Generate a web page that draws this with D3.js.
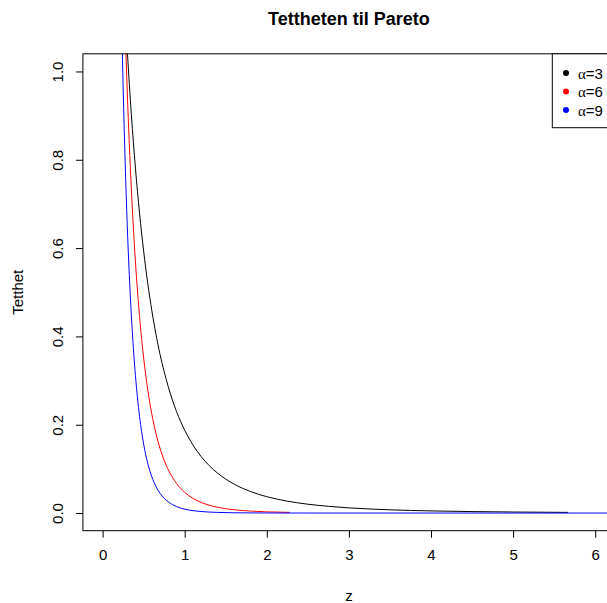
<!DOCTYPE html>
<html>
<head>
<meta charset="utf-8">
<script src="https://cdn.jsdelivr.net/npm/d3@7"></script>
<style>
  html, body { margin: 0; padding: 0; background: #fff; }
  svg { display: block; font-family: "Liberation Sans", Arial, sans-serif; }
</style>
</head>
<body>
<svg id="chart" width="607" height="603"></svg>
<script>
// ---- data ----
const seriesNames = ["α=3", "α=6", "α=9"];
const seriesColors = ["#000000", "#ff0000", "#0000ff"];

const zBlack = [0.20, 0.25, 0.30, 0.35, 0.40, 0.45, 0.50, 0.55, 0.60, 0.65, 0.70, 0.75, 0.80, 0.85, 0.90, 0.95, 1.00, 1.10, 1.20, 1.30, 1.40, 1.50, 1.60, 1.70, 1.80, 1.90, 2.00, 2.25, 2.50, 2.75, 3.00, 3.50, 4.00, 4.50, 5.00, 5.67];
const yBlack = [1.447, 1.229, 1.050, 0.903, 0.781, 0.679, 0.593, 0.520, 0.458, 0.405, 0.359, 0.320, 0.286, 0.256, 0.230, 0.2075, 0.1875, 0.1543, 0.128, 0.1072, 0.0904, 0.0768, 0.0656, 0.0564, 0.0488, 0.0424, 0.0370, 0.0269, 0.0200, 0.0152, 0.0117, 0.0073, 0.0048, 0.0033, 0.0023, 0.0015];

const zRed = [0.20, 0.25, 0.275, 0.30, 0.325, 0.35, 0.375, 0.40, 0.425, 0.45, 0.475, 0.50, 0.55, 0.60, 0.65, 0.70, 0.75, 0.80, 0.85, 0.90, 0.95, 1.00, 1.10, 1.20, 1.30, 1.40, 1.50, 1.60, 1.80, 2.00, 2.28];
const yRed = [1.674, 1.258, 1.095, 0.956, 0.837, 0.734, 0.646, 0.569, 0.503, 0.445, 0.395, 0.351, 0.279, 0.2235, 0.1802, 0.1462, 0.1194, 0.0980, 0.0809, 0.0671, 0.0560, 0.0469, 0.0333, 0.0241, 0.0176, 0.0131, 0.0098, 0.0075, 0.0045, 0.0027, 0.0015];

const zBlue = [0.20, 0.22, 0.25, 0.275, 0.30, 0.325, 0.35, 0.375, 0.40, 0.425, 0.45, 0.475, 0.50, 0.55, 0.60, 0.65, 0.70, 0.75, 0.80, 0.85, 0.90, 0.95, 1.00, 1.10, 1.20, 1.30, 1.40, 1.60, 1.80, 2.00, 2.50, 3.00, 4.00, 5.00, 6.30];
const yBlue = [1.454, 1.232, 0.966, 0.793, 0.653, 0.540, 0.448, 0.3726, 0.311, 0.2607, 0.219, 0.1846, 0.156, 0.1124, 0.0819, 0.0602, 0.0446, 0.0334, 0.0252, 0.0192, 0.0147, 0.0113, 0.0088, 0.0054, 0.0034, 0.0022, 0.0014, 0.0006, 0.0003, 0.00015, 0.00003, 0, 0, 0, 0];

const xTicks = [0, 1, 2, 3, 4, 5, 6];
const yTicks = [0, 0.2, 0.4, 0.6, 0.8, 1.0];
const yTickLabels = ["0.0", "0.2", "0.4", "0.6", "0.8", "1.0"];

const titleText = "Tettheten til Pareto";
const xLabel = "z";
const yLabel = "Tetthet";

// ---- drawing ----
const svg = d3.select("#chart");
const plot = { left: 82.9, right: 614.9, top: 53.8, bottom: 530.7 };

const x = d3.scaleLinear().domain([-0.24, 6.24]).range([plot.left, plot.right]);
const y = d3.scaleLinear().domain([-0.04, 1.04]).range([plot.bottom, plot.top]);

svg.append("defs").append("clipPath").attr("id", "clip")
  .append("rect")
  .attr("x", plot.left).attr("y", plot.top)
  .attr("width", plot.right - plot.left).attr("height", plot.bottom - plot.top);

// series lines
const series = [
  { z: zBlack, v: yBlack },
  { z: zRed, v: yRed },
  { z: zBlue, v: yBlue }
];
const line = d3.line().x(d => x(d[0])).y(d => y(d[1])).curve(d3.curveMonotoneX);
const gLines = svg.append("g").attr("clip-path", "url(#clip)");
series.forEach((s, i) => {
  gLines.append("path")
    .datum(s.z.map((z, j) => [z, s.v[j]]))
    .attr("d", line)
    .attr("fill", "none")
    .attr("stroke", seriesColors[i])
    .attr("stroke-width", 1);
});

// box
svg.append("rect")
  .attr("x", plot.left).attr("y", plot.top)
  .attr("width", plot.right - plot.left).attr("height", plot.bottom - plot.top)
  .attr("fill", "none").attr("stroke", "#000").attr("stroke-width", 1);

// x axis
const xAxis = d3.axisBottom(x).tickValues(xTicks).tickSize(7).tickPadding(12)
  .tickFormat(d3.format("d"));
const gx = svg.append("g").attr("transform", `translate(0,${plot.bottom})`).call(xAxis);
gx.select(".domain").remove();
gx.selectAll("text").attr("font-size", 15).attr("font-family", "Liberation Sans, Arial, sans-serif").attr("fill", "#000");
gx.selectAll("line").attr("stroke", "#000");

// y axis
const yAxis = d3.axisLeft(y).tickValues(yTicks).tickSize(7)
  .tickFormat((d, i) => yTickLabels[i]);
const gy = svg.append("g").attr("transform", `translate(${plot.left},0)`).call(yAxis);
gy.select(".domain").remove();
gy.selectAll("line").attr("stroke", "#000");
gy.selectAll("text")
  .attr("font-size", 15).attr("font-family", "Liberation Sans, Arial, sans-serif").attr("fill", "#000")
  .attr("x", null).attr("dy", null)
  .attr("text-anchor", "middle")
  .attr("transform", "translate(-20,0) rotate(-90)");

// title
svg.append("text")
  .attr("x", (plot.left + plot.right) / 2).attr("y", 25)
  .attr("text-anchor", "middle")
  .attr("font-size", 18).attr("font-weight", "bold")
  .text(titleText);

// axis labels
svg.append("text")
  .attr("x", (plot.left + plot.right) / 2).attr("y", 601)
  .attr("text-anchor", "middle").attr("font-size", 15)
  .text(xLabel);

svg.append("text")
  .attr("transform", `translate(23,${(plot.top + plot.bottom) / 2}) rotate(-90)`)
  .attr("text-anchor", "middle").attr("font-size", 15)
  .text(yLabel);

// legend
const legend = svg.append("g");
legend.append("rect")
  .attr("x", 552.3).attr("y", plot.top)
  .attr("width", plot.right - 552.3).attr("height", 127.7 - plot.top)
  .attr("fill", "#fff").attr("stroke", "#000").attr("stroke-width", 1);
seriesNames.forEach((name, i) => {
  const cy = 73 + i * 18.5;
  legend.append("circle").attr("cx", 566).attr("cy", cy).attr("r", 3).attr("fill", seriesColors[i]);
  const t = legend.append("text").attr("x", 578).attr("y", cy + 5.5).attr("font-size", 15);
  t.append("tspan").attr("font-family", "Liberation Serif, serif").text(name.slice(0, 1));
  t.append("tspan").text(name.slice(1));
});
</script>
</body>
</html>
